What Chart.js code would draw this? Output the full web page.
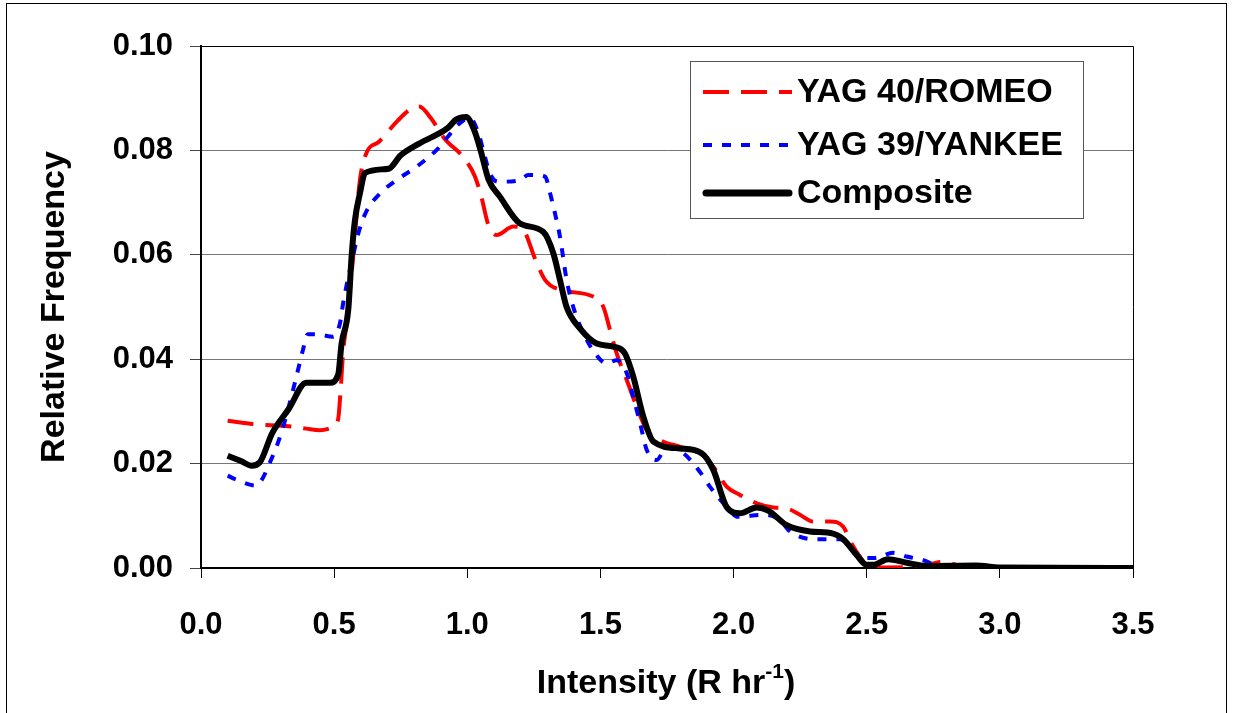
<!DOCTYPE html>
<html lang="en">
<head>
  <meta charset="UTF-8">
  <title>Relative Frequency vs Intensity</title>
  <style>
    body { margin: 0; background: #fff; }
    canvas { display: block; }
  </style>
</head>
<body>
<canvas id="freqChart" width="1233" height="713"></canvas>

<script src="https://cdn.jsdelivr.net/npm/chart.js@4.4.1/dist/chart.umd.min.js"></script>
<script>
  // values
  const romeoX = [0.1, 0.205, 0.319, 0.395, 0.446, 0.49, 0.515, 0.524, 0.534, 0.547, 0.572, 0.597, 0.623, 0.667, 0.737, 0.787, 0.819, 0.863, 0.914, 0.99, 1.028, 1.053, 1.078, 1.11, 1.173, 1.21, 1.254, 1.292, 1.348, 1.473, 1.511, 1.536, 1.561, 1.599, 1.636, 1.674, 1.724, 1.8, 1.874, 1.924, 1.974, 2.024, 2.087, 2.15, 2.2, 2.249, 2.299, 2.362, 2.412, 2.443, 2.474, 2.512, 2.575, 2.7, 2.787, 2.85, 3.0, 3.5];
  const romeoY = [0.0282, 0.0275, 0.0272, 0.0267, 0.0264, 0.0269, 0.0285, 0.0338, 0.0416, 0.0469, 0.060, 0.0744, 0.0797, 0.0816, 0.0856, 0.0879, 0.0884, 0.0862, 0.0823, 0.0784, 0.0751, 0.0711, 0.0659, 0.0638, 0.0654, 0.0648, 0.0593, 0.0552, 0.0533, 0.052, 0.050, 0.0456, 0.0411, 0.036, 0.0309, 0.0264, 0.0245, 0.0232, 0.022, 0.0194, 0.0156, 0.014, 0.0124, 0.0116, 0.0114, 0.0102, 0.0089, 0.0089, 0.0079, 0.0047, 0.0022, 0.0001, 0.0001, 0.0003, 0.0012, 0.0004, 0.0, 0.0];

  const yankeeX = [0.1, 0.129, 0.205, 0.268, 0.306, 0.357, 0.382, 0.401, 0.433, 0.496, 0.522, 0.534, 0.572, 0.597, 0.623, 0.673, 0.737, 0.813, 0.889, 0.927, 0.965, 1.009, 1.04, 1.06, 1.085, 1.116, 1.198, 1.229, 1.292, 1.311, 1.329, 1.348, 1.373, 1.398, 1.436, 1.48, 1.523, 1.561, 1.599, 1.623, 1.649, 1.674, 1.711, 1.749, 1.811, 1.874, 1.911, 1.974, 2.017, 2.111, 2.174, 2.212, 2.306, 2.4, 2.449, 2.487, 2.525, 2.6, 2.65, 2.712, 2.78, 3.0, 3.5];
  const yankeeY = [0.0177, 0.0170, 0.0158, 0.0213, 0.0266, 0.0364, 0.0416, 0.0448, 0.0448, 0.0443, 0.0469, 0.0508, 0.060, 0.0652, 0.0685, 0.0718, 0.0744, 0.077, 0.0803, 0.0826, 0.0849, 0.0862, 0.0836, 0.080, 0.0756, 0.074, 0.0743, 0.0753, 0.075, 0.0718, 0.068, 0.0635, 0.0552, 0.050, 0.045, 0.0411, 0.0392, 0.0398, 0.0373, 0.0328, 0.0277, 0.0226, 0.0207, 0.0232, 0.022, 0.0184, 0.0156, 0.0117, 0.0098, 0.0102, 0.0092, 0.007, 0.0055, 0.0055, 0.0034, 0.0019, 0.0019, 0.0029, 0.0022, 0.0015, 0.0003, 0.0002, 0.0];

  const compositeX = [0.1, 0.15, 0.19, 0.22, 0.268, 0.33, 0.395, 0.484, 0.515, 0.528, 0.553, 0.566, 0.578, 0.597, 0.616, 0.705, 0.749, 0.819, 0.927, 0.958, 0.996, 1.028, 1.05, 1.08, 1.123, 1.198, 1.285, 1.323, 1.348, 1.373, 1.423, 1.486, 1.548, 1.592, 1.623, 1.661, 1.699, 1.799, 1.88, 1.924, 1.974, 2.024, 2.087, 2.13, 2.2, 2.287, 2.374, 2.412, 2.462, 2.5, 2.525, 2.58, 2.65, 2.725, 2.91, 3.0, 3.5];
  const compositeY = [0.0215, 0.0205, 0.0196, 0.0202, 0.0259, 0.0305, 0.0355, 0.0355, 0.037, 0.043, 0.0495, 0.060, 0.0666, 0.0718, 0.0757, 0.0765, 0.079, 0.0813, 0.0843, 0.0859, 0.0864, 0.0836, 0.080, 0.0744, 0.0711, 0.066, 0.0644, 0.0603, 0.0552, 0.050, 0.0459, 0.043, 0.0424, 0.0411, 0.0367, 0.029, 0.0242, 0.0229, 0.022, 0.0188, 0.0117, 0.0105, 0.0116, 0.0110, 0.0082, 0.007, 0.0066, 0.0055, 0.0025, 0.0006, 0.0006, 0.0017, 0.001, 0.0004, 0.0005, 0.0001, 0.0];

  const seriesNames = ['YAG 40/ROMEO', 'YAG 39/YANKEE', 'Composite'];
  const xTicks = [0, 0.5, 1, 1.5, 2, 2.5, 3, 3.5];
  const yTicks = [0, 0.02, 0.04, 0.06, 0.08, 0.10];

  const FONT = "'Liberation Sans', Arial, sans-serif";

  function toPoints(xs, ys) {
    return xs.map((x, i) => ({ x: x, y: ys[i] }));
  }

  const lineStyles = [
    { color: '#ff0000', width: 4, dash: [26, 12] },
    { color: '#0000ff', width: 4, dash: [9, 10] },
    { color: '#000000', width: 6, dash: [] }
  ];

  // frame, titles and legend drawn straight on the canvas
  const decorations = {
    id: 'decorations',
    afterDraw(chart) {
      const ctx = chart.ctx;
      const a = chart.chartArea;
      ctx.save();

      // outer border
      ctx.strokeStyle = '#000';
      ctx.lineWidth = 1;
      ctx.strokeRect(6.5, 3.5, 1220, 720);

      // top and right edge of the plot box
      ctx.beginPath();
      ctx.moveTo(a.left, a.top + 0.5);
      ctx.lineTo(a.right + 0.5, a.top + 0.5);
      ctx.lineTo(a.right + 0.5, a.bottom);
      ctx.stroke();

      // y title
      ctx.fillStyle = '#000';
      ctx.font = 'bold 34px ' + FONT;
      ctx.textAlign = 'center';
      ctx.textBaseline = 'middle';
      ctx.translate(55, 307);
      ctx.rotate(-Math.PI / 2);
      ctx.fillText('Relative Frequency', 0, 0);
      ctx.setTransform(1, 0, 0, 1, 0, 0);

      // x title with superscript
      const main = 'Intensity (R hr';
      const sup = '-1';
      const tail = ')';
      ctx.textAlign = 'left';
      ctx.textBaseline = 'alphabetic';
      ctx.font = 'bold 34px ' + FONT;
      const wMain = ctx.measureText(main).width;
      const wTail = ctx.measureText(tail).width;
      ctx.font = 'bold 21px ' + FONT;
      const wSup = ctx.measureText(sup).width;
      let x = 666 - (wMain + wSup + wTail) / 2;
      const base = 693;
      ctx.font = 'bold 34px ' + FONT;
      ctx.fillText(main, x, base);
      x += wMain;
      ctx.font = 'bold 21px ' + FONT;
      ctx.fillText(sup, x, base - 15);
      x += wSup;
      ctx.font = 'bold 34px ' + FONT;
      ctx.fillText(tail, x, base);

      // legend box
      ctx.fillStyle = '#fff';
      ctx.fillRect(690, 61, 393, 157);
      ctx.strokeStyle = '#555';
      ctx.lineWidth = 1;
      ctx.strokeRect(690.5, 61.5, 393, 157);

      const rowsY = [92, 145, 193];
      seriesNames.forEach((name, i) => {
        const st = lineStyles[i];
        ctx.strokeStyle = st.color;
        ctx.lineWidth = st.width + (i === 2 ? 1 : 0);
        ctx.setLineDash(st.dash);
        ctx.lineCap = i === 2 ? 'round' : 'butt';
        ctx.beginPath();
        ctx.moveTo(i === 2 ? 706 : 703, rowsY[i]);
        ctx.lineTo(i === 2 ? 789 : 792, rowsY[i]);
        ctx.stroke();
        ctx.setLineDash([]);
        ctx.fillStyle = '#000';
        ctx.font = 'bold 34px ' + FONT;
        ctx.textBaseline = 'middle';
        ctx.fillText(name, 797, rowsY[i] + 1);
      });

      ctx.restore();
    }
  };

  const allX = [romeoX, yankeeX, compositeX];
  const allY = [romeoY, yankeeY, compositeY];

  new Chart(document.getElementById('freqChart'), {
    type: 'scatter',
    data: {
      datasets: seriesNames.map((name, i) => ({
        label: name,
        data: toPoints(allX[i], allY[i]),
        showLine: true,
        borderColor: lineStyles[i].color,
        borderWidth: lineStyles[i].width,
        borderDash: lineStyles[i].dash,
        pointRadius: 0,
        tension: 0.3,
        cubicInterpolationMode: 'monotone',
        fill: false,
        order: 2 - i
      }))
    },
    options: {
      responsive: false,
      animation: false,
      layout: { padding: { left: 0, top: 46, right: 100, bottom: 0 } },
      plugins: {
        legend: { display: false },
        tooltip: { enabled: false }
      },
      scales: {
        x: {
          type: 'linear',
          min: 0,
          max: 3.5,
          afterFit: s => { s.height = 145; },
          afterBuildTicks: s => { s.ticks = xTicks.map(v => ({ value: v })); },
          ticks: {
            color: '#000',
            font: { family: FONT, size: 31, weight: 'bold' },
            padding: 29,
            maxRotation: 0,
            callback: v => v.toFixed(1)
          },
          grid: { drawOnChartArea: false, tickLength: 10, tickColor: '#000', tickWidth: 1 },
          border: { color: '#000', width: 2 }
        },
        y: {
          min: 0,
          max: 0.1,
          afterFit: s => { s.width = 201; },
          afterBuildTicks: s => { s.ticks = yTicks.map(v => ({ value: v })); },
          ticks: {
            color: '#000',
            font: { family: FONT, size: 31, weight: 'bold' },
            padding: 17,
            callback: v => v.toFixed(2)
          },
          grid: { color: '#777', lineWidth: 1, tickLength: 11, tickColor: '#444' },
          border: { color: '#000', width: 2 }
        }
      }
    },
    plugins: [decorations]
  });
</script>
</body>
</html>
